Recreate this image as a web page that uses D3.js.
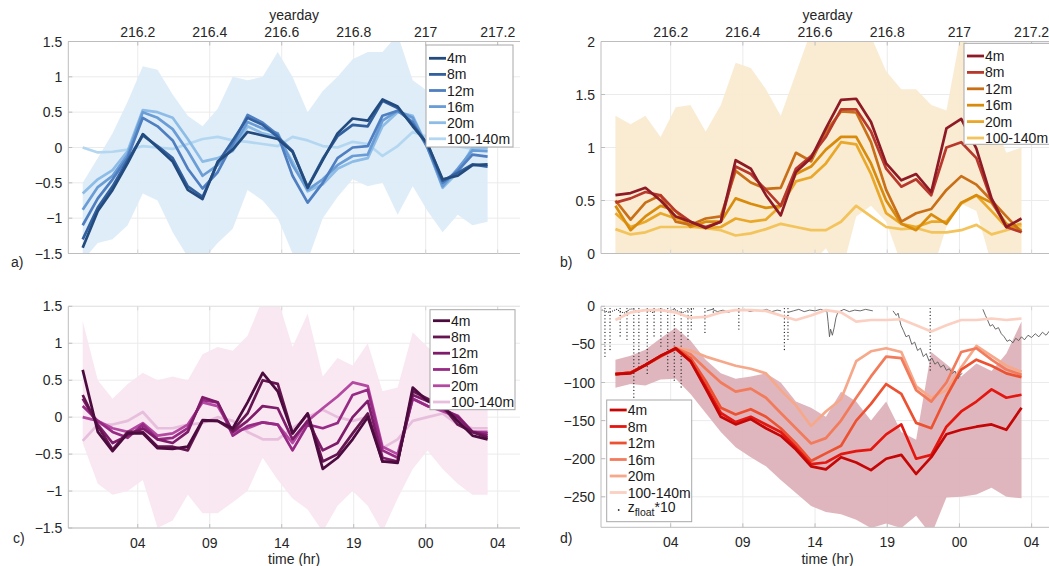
<!DOCTYPE html>
<html>
<head>
<meta charset="utf-8">
<script src="https://cdn.jsdelivr.net/npm/d3@7/dist/d3.min.js"></script>
<style>
  body { margin: 0; background: #fff; }
  svg { display: block; font-family: "Liberation Sans", Arial, Helvetica, sans-serif; }
</style>
</head>
<body>
<svg id="fig" width="1049" height="566"></svg>
<script>
// hourly sample times (yearday)
var yday = [216.047, 216.089, 216.130, 216.172, 216.214, 216.255, 216.297, 216.339, 216.380, 216.422,
  216.464, 216.505, 216.547, 216.589, 216.630, 216.672, 216.714, 216.755, 216.797, 216.839,
  216.880, 216.922, 216.964, 217.005, 217.047, 217.089, 217.130, 217.172];
var xTicks = [216.2, 216.4, 216.6, 216.8, 217, 217.2];
var depthNames = ['4m', '8m', '12m', '16m', '20m', '100-140m'];

// a)
var a4m = [-1.42,-0.9,-0.6,-0.22,0.19,0.0,-0.2,-0.6,-0.73,-0.2,-0.03,0.22,0.17,0.12,-0.06,-0.57,-0.18,0.2,0.41,0.38,0.68,0.58,0.3,0.05,-0.45,-0.4,-0.25,-0.24];
var a8m = [-1.3,-0.85,-0.55,-0.18,0.17,0.02,-0.15,-0.55,-0.7,-0.22,0.1,0.42,0.32,0.15,-0.05,-0.56,-0.16,0.16,0.32,0.3,0.66,0.56,0.32,0.05,-0.47,-0.36,-0.24,-0.27];
var a12m = [-1.1,-0.72,-0.45,-0.14,0.42,0.3,0.1,-0.3,-0.58,-0.35,0.05,0.46,0.35,0.18,-0.4,-0.78,-0.5,-0.15,0.0,0.02,0.45,0.52,0.36,0.0,-0.5,-0.33,-0.1,-0.13];
var a16m = [-0.88,-0.56,-0.4,-0.1,0.5,0.42,0.26,-0.05,-0.4,-0.25,0.0,0.36,0.27,0.2,-0.25,-0.6,-0.45,-0.25,-0.12,-0.1,0.38,0.52,0.42,0.0,-0.55,-0.3,-0.04,-0.05];
var a20m = [-0.65,-0.45,-0.32,-0.05,0.53,0.5,0.42,0.12,-0.2,-0.15,-0.05,0.3,0.2,0.15,-0.2,-0.62,-0.52,-0.3,-0.2,-0.15,0.3,0.5,0.45,0.0,-0.57,-0.35,0.0,0.0];
var a100 = [0.0,-0.07,-0.06,-0.03,0.02,0.0,-0.02,0.05,0.12,0.15,0.1,0.08,0.05,0.02,0.15,0.1,0.02,0.0,0.08,0.05,-0.12,0.02,0.22,0.15,0.05,0.02,-0.02,-0.02];
var aHi = [-0.5,-0.15,0.2,0.65,1.15,1.1,0.75,0.45,0.3,0.55,1.0,0.95,1.0,1.35,1.0,0.5,0.8,1.0,1.25,1.35,1.35,1.6,0.95,0.8,0.6,0.4,0.3,0.22];
var aLo = [-1.6,-1.35,-1.3,-1.1,-0.65,-0.75,-1.2,-1.55,-1.6,-1.35,-1.15,-0.6,-0.75,-1.0,-1.5,-1.6,-1.0,-0.7,-0.45,-0.55,-0.5,-0.95,-0.55,-0.9,-1.2,-0.95,-1.1,-1.05];

// b)
var b4m = [0.55,0.57,0.62,0.5,0.35,0.3,0.24,0.3,0.88,0.8,0.55,0.36,0.77,0.9,1.18,1.45,1.46,1.24,0.85,0.69,0.75,0.58,1.18,1.27,0.99,0.52,0.25,0.33];
var b8m = [0.48,0.52,0.58,0.55,0.4,0.3,0.25,0.3,0.82,0.75,0.6,0.45,0.8,0.92,1.1,1.36,1.36,1.15,0.8,0.63,0.7,0.55,1.0,1.05,0.9,0.5,0.25,0.2];
var b12m = [0.5,0.32,0.48,0.55,0.3,0.27,0.33,0.35,0.78,0.67,0.61,0.62,0.95,0.87,1.15,1.34,1.33,1.05,0.6,0.3,0.38,0.42,0.6,0.73,0.65,0.5,0.35,0.2];
var b16m = [0.45,0.22,0.35,0.45,0.4,0.25,0.3,0.3,0.52,0.47,0.43,0.45,0.75,0.82,0.98,1.1,1.1,0.85,0.5,0.28,0.22,0.37,0.28,0.48,0.55,0.48,0.28,0.22];
var b20m = [0.38,0.25,0.3,0.38,0.33,0.27,0.24,0.25,0.33,0.3,0.32,0.45,0.68,0.72,0.85,1.05,1.03,0.75,0.38,0.28,0.25,0.3,0.3,0.47,0.55,0.4,0.25,0.28];
var b100 = [0.23,0.18,0.2,0.25,0.25,0.25,0.24,0.22,0.17,0.19,0.23,0.28,0.25,0.22,0.22,0.3,0.45,0.35,0.25,0.23,0.24,0.2,0.2,0.22,0.27,0.18,0.22,0.26];
var bHi = [1.3,1.22,1.3,1.1,1.38,1.4,1.15,1.4,1.8,1.75,1.55,1.3,1.7,2.1,2.2,2.2,2.2,2.05,1.72,1.55,1.55,1.4,1.35,2.1,1.8,1.3,0.95,1.0];
var bLo = [-0.3,-0.3,-0.3,-0.3,-0.3,-0.3,-0.3,-0.3,-0.3,-0.3,-0.3,-0.3,-0.3,-0.1,0.05,-0.2,0.35,0.45,0.3,-0.1,-0.2,-0.2,0.25,0.47,0.4,-0.1,-0.3,-0.3];

// c)
var c4m = [0.64,-0.2,-0.46,-0.22,-0.22,-0.42,-0.43,-0.4,-0.04,-0.05,-0.15,0.2,0.6,0.35,-0.22,0.05,-0.7,-0.55,-0.3,0.0,-0.6,-0.62,0.4,0.22,0.15,-0.05,-0.25,-0.3];
var c8m = [0.3,-0.12,-0.44,-0.2,-0.2,-0.4,-0.4,-0.45,-0.05,-0.05,-0.18,0.05,0.5,0.45,-0.22,0.05,-0.6,-0.5,-0.22,0.05,-0.6,-0.6,0.35,0.25,0.15,-0.1,-0.2,-0.28];
var c12m = [0.25,-0.1,-0.35,-0.25,-0.15,-0.3,-0.35,-0.2,0.27,0.2,-0.2,-0.05,0.15,0.12,-0.3,-0.05,-0.45,-0.35,0.0,0.22,-0.55,-0.6,0.3,0.22,0.12,0.0,-0.2,-0.25];
var c16m = [0.15,-0.05,-0.2,-0.28,-0.1,-0.3,-0.28,-0.15,0.23,0.2,-0.25,-0.12,-0.07,-0.1,-0.45,-0.1,-0.15,-0.08,0.3,0.37,-0.45,-0.55,0.25,0.15,0.1,0.02,-0.2,-0.22];
var c20m = [0.0,-0.05,-0.15,-0.2,-0.08,-0.25,-0.22,-0.1,0.2,0.15,-0.2,-0.15,-0.07,-0.1,-0.35,-0.05,0.12,0.28,0.47,0.42,-0.4,-0.5,0.25,0.15,0.08,0.0,-0.2,-0.2];
var c100 = [-0.32,-0.1,-0.1,-0.05,0.07,-0.15,-0.15,-0.1,-0.08,0.0,-0.05,-0.2,-0.3,-0.3,-0.15,0.0,0.1,0.0,-0.05,0.0,-0.42,-0.3,-0.05,0.0,0.05,-0.1,-0.15,-0.15];
var cHi = [1.3,0.5,0.25,0.45,0.6,0.5,0.55,0.5,0.85,0.95,0.9,1.1,1.6,1.6,0.95,1.4,0.55,0.8,0.7,1.0,0.35,0.4,1.15,0.95,0.8,0.7,0.35,0.2];
var cLo = [-0.35,-0.9,-1.05,-1.0,-0.85,-1.5,-1.4,-1.05,-1.3,-1.3,-1.15,-1.0,-0.55,-0.85,-1.1,-1.25,-1.55,-1.2,-1.0,-1.2,-1.55,-1.1,-0.7,-0.45,-0.7,-0.9,-1.05,-1.05];

// d)
var d4m = [-89,-88,-77,-65,-55,-72,-108,-145,-155,-148,-160,-170,-188,-210,-214,-198,-205,-215,-200,-195,-220,-198,-168,-162,-158,-155,-162,-133];
var d8m = [-89,-87,-77,-65,-56,-72,-105,-140,-152,-145,-155,-165,-185,-207,-205,-194,-190,-188,-168,-155,-200,-195,-158,-138,-125,-109,-120,-116];
var d12m = [-89,-87,-77,-66,-55,-68,-98,-133,-142,-135,-145,-160,-180,-203,-193,-183,-150,-128,-102,-115,-153,-160,-118,-83,-70,-78,-88,-93];
var d16m = [-89,-87,-77,-66,-55,-63,-82,-100,-112,-108,-120,-140,-160,-180,-173,-150,-120,-92,-66,-68,-110,-125,-100,-60,-55,-70,-83,-90];
var d20m = [-89,-87,-77,-66,-54,-58,-66,-72,-78,-82,-88,-110,-130,-157,-138,-122,-72,-59,-55,-60,-105,-120,-110,-80,-52,-65,-78,-86];
var d100 = [-18,-8,-5,-5,-8,-15,-14,-8,-5,-5,-6,-12,-18,-12,-5,-8,-20,-18,-18,-17,-25,-33,-25,-18,-18,-16,-18,-16];
var dHi = [-70,-65,-57,-42,-28,-45,-70,-88,-95,-92,-88,-100,-125,-133,-145,-112,-125,-150,-125,-165,-175,-60,-76,-92,-75,-85,-62,-20];
var dLo = [-107,-102,-104,-96,-95,-115,-140,-165,-185,-198,-210,-228,-245,-262,-270,-273,-280,-291,-285,-291,-275,-300,-251,-250,-247,-238,-250,-252];

// float depth *10: dives [yearday, deepest]
var zfDives = [[216.018,-70],[216.032,-60],[216.060,-40],[216.079,-45],[216.098,-130],[216.112,-80],
  [216.135,-90],[216.154,-40],[216.173,-55],[216.192,-85],[216.210,-100],[216.229,-110],[216.248,-45],
  [216.257,-30],[216.295,-35],[216.318,-12],[216.389,-30],[216.515,-60],[216.525,-45],[216.919,-85]];
var zfSurf = [[216.010,-5],[216.03,-8],[216.05,-4],[216.07,-9],[216.09,-3],[216.11,-7],[216.13,-4],
  [216.15,-8],[216.17,-3],[216.19,-6],[216.21,-4],[216.23,-9],[216.25,-5],[216.265,-3]];
var zfSeg1 = [[216.300,-6],[216.315,-4],[216.33,-7],[216.345,-5],[216.36,-8],[216.375,-5],[216.39,-6],
  [216.405,-4],[216.42,-7],[216.435,-5],[216.45,-6],[216.465,-4],[216.48,-7],[216.495,-5],[216.506,-6]];
var zfSeg2 = [[216.525,-8],[216.54,-6],[216.555,-4],[216.57,-7],[216.585,-5],[216.60,-6],[216.615,-4],
  [216.633,-7],[216.636,-20],[216.640,-40],[216.643,-30],[216.648,-38],[216.653,-28],[216.658,-15],
  [216.663,-8],[216.68,-4],[216.695,-7],[216.71,-5],[216.725,-6],[216.74,-4],[216.760,-6]];
var zfSeg3 = [[216.816,-6],[216.825,-12],[216.83,-9],[216.838,-25],[216.845,-32],[216.852,-40],
  [216.86,-38],[216.868,-50],[216.876,-47],[216.884,-58],[216.892,-55],[216.90,-66],[216.908,-62],
  [216.916,-72],[216.924,-68],[216.932,-76],[216.94,-73],[216.948,-80],[216.956,-77],[216.964,-84],
  [216.972,-82],[216.98,-88],[216.988,-85],[216.996,-95],[217.002,-90],[217.008,-88]];
var zfSeg4 = [[217.065,-4],[217.072,-12],[217.078,-18],[217.085,-26],[217.092,-24],[217.1,-30],
  [217.108,-28],[217.116,-36],[217.124,-40],[217.132,-46],[217.14,-44],[217.148,-48],[217.156,-42],
  [217.164,-45],[217.172,-40],[217.18,-44],[217.19,-38],[217.2,-41],[217.21,-36],[217.22,-40],
  [217.23,-34],[217.24,-38],[217.25,-32],[217.262,-36]];

var panels = [
  {id: 'a', left: 68.3, right: 520, top: 41.5, bottom: 253.5, ydom: [-1.5, 1.5],
   yticks: [-1.5, -1, -0.5, 0, 0.5, 1, 1.5], topAxis: true,
   series: [a4m, a8m, a12m, a16m, a20m, a100], hi: aHi, lo: aLo, shade: '#dcecf8',
   colors: ['#234b7d', '#32609e', '#4f7fc0', '#6a9cd6', '#8dbce6', '#b3d7f1'],
   legend: {x: 426, y: 45, w: 87, h: 102, first: 58.3, step: 16.1}, label: {x: 11, y: 267, t: 'a)'}},
  {id: 'b', left: 601, right: 1054, top: 41.5, bottom: 253.5, ydom: [0, 2],
   yticks: [0, 0.5, 1, 1.5, 2], topAxis: true,
   series: [b4m, b8m, b12m, b16m, b20m, b100], hi: bHi, lo: bLo, shade: '#f9eacf',
   colors: ['#8e1a26', '#b8392c', '#c96f17', '#d98b0b', '#eaa82a', '#f3c35c'],
   legend: {x: 964, y: 43.3, w: 100, h: 101, first: 56, step: 16.4}, label: {x: 560, y: 267, t: 'b)'}},
  {id: 'c', left: 68.3, right: 520, top: 306.3, bottom: 528, ydom: [-1.5, 1.5],
   yticks: [-1.5, -1, -0.5, 0, 0.5, 1, 1.5], topAxis: false,
   series: [c4m, c8m, c12m, c16m, c20m, c100], hi: cHi, lo: cLo, shade: '#f8e5f1',
   colors: ['#4c0b3e', '#651550', '#7e1b6a', '#972a84', '#b449a2', '#e7bfdd'],
   legend: {x: 430, y: 309.7, w: 85, h: 100, first: 320.7, step: 16.26}, label: {x: 13, y: 543, t: 'c)'}},
  {id: 'd', left: 601, right: 1054, top: 306.3, bottom: 527.3, ydom: [-290, 0],
   yticks: [-250, -200, -150, -100, -50, 0], topAxis: false,
   series: [d4m, d8m, d12m, d16m, d20m, d100], hi: dHi, lo: dLo, shade: '#ddb0b9',
   colors: ['#c40606', '#e3170f', '#ec5232', '#f27b5c', '#f6a88a', '#fbd0c2'],
   legend: {x: 606.7, y: 400, w: 85, h: 121.7, first: 410, step: 16.5}, label: {x: 560, y: 543, t: 'd)'},
   float: true}
];

var svg = d3.select('#fig');
var axisCol = '#bdbdbd';
var textCol = '#262626';
var hourFmt = d3.format('02d');

function drawPanel(p) {
  var x = d3.scaleLinear().domain([216.007, 217.262]).range([p.left, p.right]);
  var y = d3.scaleLinear().domain(p.ydom).range([p.bottom, p.top]);
  var g = svg.append('g').attr('class', 'panel-' + p.id);

  g.append('clipPath').attr('id', 'clip-' + p.id).append('rect')
    .attr('x', p.left).attr('y', p.top)
    .attr('width', p.right - p.left).attr('height', p.bottom - p.top);

  // grid
  g.selectAll('.gx').data(xTicks).enter().append('line')
    .attr('x1', function (d) { return x(d); }).attr('x2', function (d) { return x(d); })
    .attr('y1', p.top).attr('y2', p.bottom)
    .attr('stroke', '#ebebeb').attr('stroke-width', 1);
  g.selectAll('.gy').data(p.yticks).enter().append('line')
    .attr('x1', p.left).attr('x2', p.right)
    .attr('y1', function (d) { return y(d); }).attr('y2', function (d) { return y(d); })
    .attr('stroke', '#ebebeb').attr('stroke-width', 1);

  var plot = g.append('g').attr('clip-path', 'url(#clip-' + p.id + ')');

  // spread band
  var area = d3.area()
    .x(function (d, i) { return x(yday[i]); })
    .y0(function (d, i) { return y(p.lo[i]); })
    .y1(function (d, i) { return y(p.hi[i]); });
  plot.append('path').datum(p.hi).attr('d', area)
    .attr('fill', p.shade).attr('fill-opacity', 0.92);

  // float depth
  if (p.float) {
    plot.selectAll('.dive').data(zfDives).enter().append('line')
      .attr('x1', function (d) { return x(d[0]); }).attr('x2', function (d) { return x(d[0]); })
      .attr('y1', y(-3)).attr('y2', function (d) { return y(d[1]); })
      .attr('stroke', '#1e1e1e').attr('stroke-width', 1.3)
      .attr('stroke-linecap', 'round').attr('stroke-dasharray', '0.01 3.4');
    var zl = d3.line().x(function (d) { return x(d[0]); }).y(function (d) { return y(d[1]); });
    plot.append('path').datum(zfSurf).attr('d', zl).attr('fill', 'none')
      .attr('stroke', '#333').attr('stroke-width', 1.2)
      .attr('stroke-linecap', 'round').attr('stroke-dasharray', '0.01 2.2');
    [zfSeg1, zfSeg2, zfSeg3, zfSeg4].forEach(function (s) {
      plot.append('path').datum(s).attr('d', zl).attr('fill', 'none')
        .attr('stroke', '#5a5a5a').attr('stroke-width', 0.9);
    });
  }

  // depth lines, lightest first
  var line = d3.line()
    .x(function (d, i) { return x(yday[i]); })
    .y(function (d) { return y(d); });
  for (var k = p.series.length - 1; k >= 0; k--) {
    plot.append('path').datum(p.series[k]).attr('d', line)
      .attr('fill', 'none').attr('stroke', p.colors[k])
      .attr('stroke-width', 2.7).attr('stroke-linejoin', 'round');
  }

  // axes frame
  g.append('line').attr('x1', p.left).attr('x2', p.left).attr('y1', p.top).attr('y2', p.bottom)
    .attr('stroke', axisCol);
  g.append('line').attr('x1', p.left).attr('x2', p.right).attr('y1', p.bottom).attr('y2', p.bottom)
    .attr('stroke', axisCol);
  g.append('line').attr('x1', p.left).attr('x2', p.right).attr('y1', p.top).attr('y2', p.top)
    .attr('stroke', p.topAxis ? axisCol : '#e4e4e4');

  // y ticks
  g.selectAll('.yt').data(p.yticks).enter().append('line')
    .attr('x1', p.left).attr('x2', p.left + 4)
    .attr('y1', function (d) { return y(d); }).attr('y2', function (d) { return y(d); })
    .attr('stroke', axisCol);
  g.selectAll('.yl').data(p.yticks).enter().append('text')
    .attr('x', p.left - 6).attr('y', function (d) { return y(d) + 5; })
    .attr('text-anchor', 'end').attr('font-size', 14).attr('fill', textCol)
    .text(function (d) { return d3.format('')(d); });

  // x ticks
  var xt = p.topAxis ? p.top : p.bottom;
  var dir = p.topAxis ? 1 : -1;
  g.selectAll('.xt').data(xTicks).enter().append('line')
    .attr('x1', function (d) { return x(d); }).attr('x2', function (d) { return x(d); })
    .attr('y1', xt).attr('y2', xt + dir * 4)
    .attr('stroke', axisCol);
  g.selectAll('.xb').data(xTicks).enter().append('line')
    .attr('x1', function (d) { return x(d); }).attr('x2', function (d) { return x(d); })
    .attr('y1', p.topAxis ? p.bottom : p.top).attr('y2', (p.topAxis ? p.bottom : p.top) - dir * 4)
    .attr('stroke', '#d6d6d6');
  g.selectAll('.xl').data(xTicks).enter().append('text')
    .attr('x', function (d) { return x(d); })
    .attr('y', p.topAxis ? p.top - 5 : p.bottom + 20)
    .attr('text-anchor', 'middle').attr('font-size', 14).attr('fill', textCol)
    .text(function (d) {
      if (p.topAxis) return d3.format('')(+d.toFixed(1));
      return hourFmt(Math.floor(((d % 1) * 24) + 1e-6));
    });
  var mid = (p.left + p.right) / 2;
  g.append('text').attr('x', mid).attr('y', p.topAxis ? 20 : 564)
    .attr('text-anchor', 'middle').attr('font-size', 14).attr('fill', textCol)
    .text(p.topAxis ? 'yearday' : 'time (hr)');

  // panel letter
  g.append('text').attr('x', p.label.x).attr('y', p.label.y)
    .attr('font-size', 14).attr('fill', textCol).text(p.label.t);

  // legend
  var L = p.legend;
  var lg = g.append('g');
  lg.append('rect').attr('x', L.x).attr('y', L.y).attr('width', L.w).attr('height', L.h)
    .attr('fill', '#fff').attr('stroke', '#a8a8a8').attr('stroke-width', 1);
  depthNames.forEach(function (name, i) {
    var yy = L.first + i * L.step;
    lg.append('line').attr('x1', L.x + 3).attr('x2', L.x + 20).attr('y1', yy).attr('y2', yy)
      .attr('stroke', p.colors[i]).attr('stroke-width', 2.8);
    lg.append('text').attr('x', L.x + 21).attr('y', yy + 5)
      .attr('font-size', 14).attr('fill', '#1a1a1a').text(name);
  });
  if (p.float) {
    var yy = L.first + 6 * L.step;
    lg.append('circle').attr('cx', L.x + 12).attr('cy', yy + 1).attr('r', 0.9).attr('fill', '#333');
    var t = lg.append('text').attr('x', L.x + 21).attr('y', yy + 3)
      .attr('font-size', 14).attr('fill', '#1a1a1a');
    t.append('tspan').text('z');
    t.append('tspan').attr('font-size', 10.5).attr('dy', 4).text('float');
    t.append('tspan').attr('dy', -4).text('*10');
  }
}

panels.forEach(drawPanel);
</script>
</body>
</html>
